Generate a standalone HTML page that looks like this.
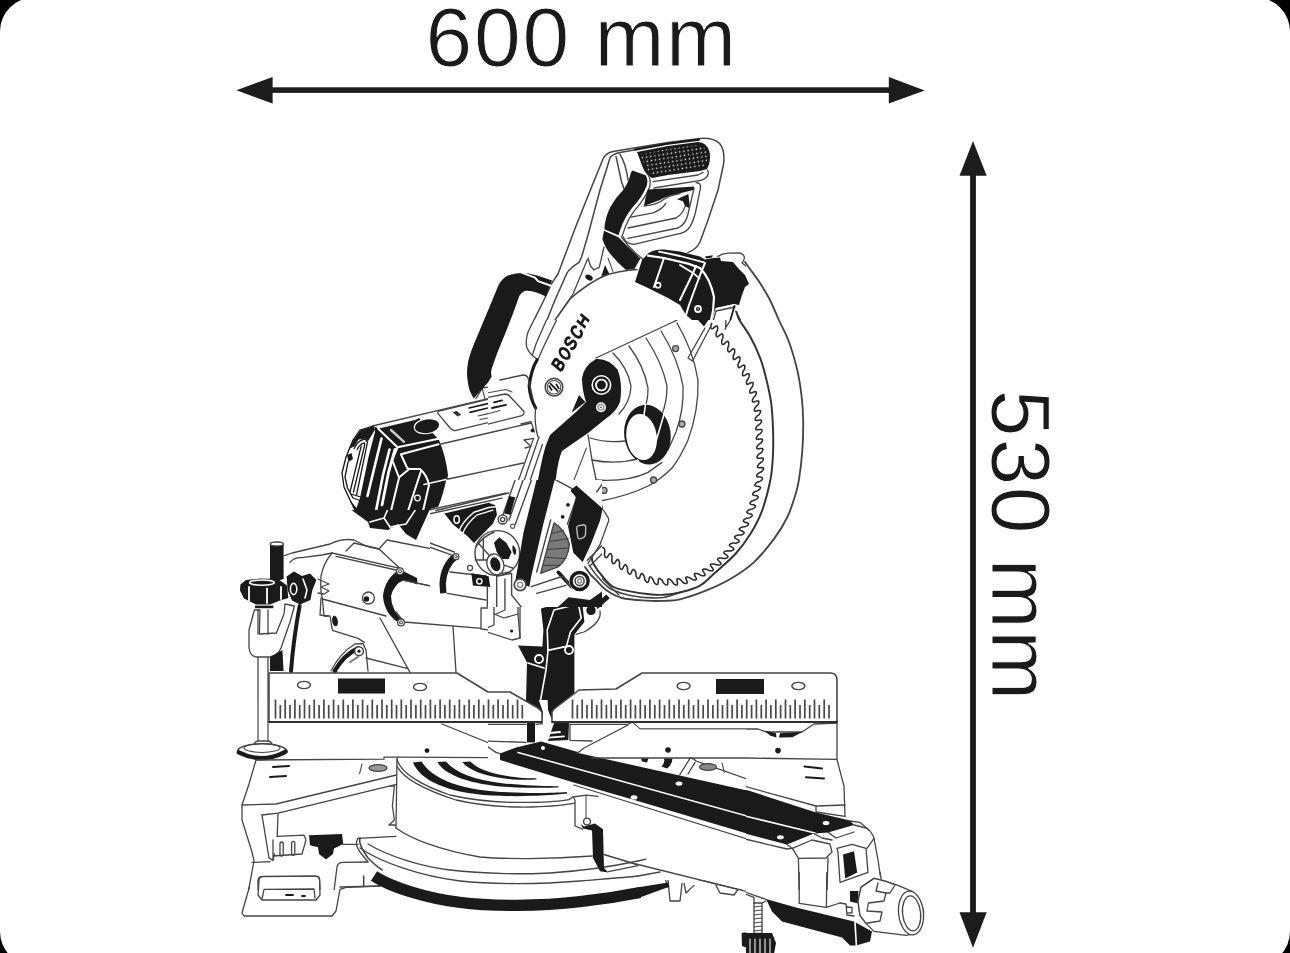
<!DOCTYPE html>
<html><head><meta charset="utf-8">
<style>
html,body{margin:0;padding:0;background:#000;}
body{width:1290px;height:953px;overflow:hidden;position:relative;font-family:"Liberation Sans",sans-serif;}
svg{position:absolute;left:0;top:0;display:block}
text{font-family:"Liberation Sans",sans-serif;fill:#1a1a1a;stroke:none}
.k{fill:#1a1a1a;stroke:none}
.w{fill:#fff;stroke:none}
.wl{stroke:#fff;fill:none}
.kw{fill:#1a1a1a;stroke:#fff}
.wk{fill:#fff;stroke:#454545}
</style></head><body>
<svg width="1290" height="953" viewBox="0 0 1290 953">
<defs>
<pattern id="dots" width="21" height="21" patternUnits="userSpaceOnUse" patternTransform="rotate(-9)"><circle cx="6" cy="6" r="3.6" fill="#fff"/></pattern>
</defs>
<rect x="0" y="-2.5" width="1290" height="968" rx="34" ry="34" fill="#fff"/>
<g id="dims" fill="#1c1c1c" stroke="none">
<rect x="268" y="87.3" width="625" height="5.6"/>
<polygon points="236.5,90.2 272.6,77 272.6,103.6"/>
<polygon points="924.7,90.4 888.8,77 888.8,103.6"/>
<rect x="970.1" y="172" width="5.8" height="744"/>
<polygon points="973,141 959.5,175.7 986.7,175.7"/>
<polygon points="973,947.8 959.5,912.2 986.7,912.2"/>
<text id="t600" y="66.2" font-size="84" x="425.4 474.1 522.5 560 594.4 665.9" stroke="#fff" stroke-width="0.9" style="stroke:#fff;paint-order:fill stroke">600 mm</text>
<text id="t530" transform="translate(991.9,-35.7) rotate(90)" font-size="84" x="425.4 474.1 522.5 560 594.4 665.9" y="0" style="stroke:#fff;paint-order:fill stroke" stroke-width="0.9">530 mm</text>
</g>
<clipPath id="cA_488_130"><rect x="488" y="130" width="258" height="190"/></clipPath>
<g clip-path="url(#cA_488_130)"><g transform="translate(488,130) scale(0.2)" fill="none" stroke="#454545" stroke-width="7.5" stroke-linejoin="round" stroke-linecap="round">
<!-- carry handle black -->
<!-- handle outer outline -->
<path d="M225,960 L270,870 L320,765 L350,720 L440,480 L520,280 L575,145 Q590,115 625,108 L760,85 L900,62 L1060,42 Q1130,38 1160,70 Q1185,100 1178,170 L1150,300 L1100,450 L1060,560 Q1040,600 1000,612"/>
<path d="M295,950 L335,850 L395,715 Q405,695 455,662 L468,635 L500,525 L560,300 L610,140 Q618,122 660,113 L745,98"/>
<path stroke-width="6.50" d="M500,640 L512,680 L530,700 L548,690 L556,688 L580,585"/>
<path d="M640,132 Q655,200 668,260 L682,300"/>
<path d="M660,122 Q690,170 700,250"/>
<path stroke-width="6.50" d="M497,648 L425,820 L350,930"/><path stroke-width="5.20" d="M600,640 L625,708"/>
<ellipse class="k" cx="505" cy="738" rx="20" ry="13" transform="rotate(30 505 738)"/>
<path class="k" d="M585,675 L565,737 L607,720 Z"/>
<!-- pad -->
<path class="k" d="M745,110 L900,80 L1050,60 Q1095,62 1108,110 Q1116,160 1095,195 L1060,205 L900,225 L820,240 Q790,225 775,190 Q760,150 745,110 Z"/>
<path fill="url(#dots)" stroke="none" d="M760,122 L900,95 L1050,75 Q1085,78 1095,115 Q1100,155 1085,185 L1060,195 L900,212 L825,226 Q800,215 788,185 Z"/>
<path stroke-width="11" stroke="#1a1a1a" d="M735,98 L900,68 L1055,48"/>
<!-- S grip -->
<path class="k" d="M722,202 L788,226 Q803,246 793,280 Q770,338 722,388 Q682,438 662,498 L652,526 L582,496 Q584,440 612,385 Q640,335 680,295 Q705,258 714,215 Z"/>
<path class="k" d="M580,504 L652,536 Q690,575 730,612 L762,642 L732,695 L690,700 Q650,665 620,630 Q585,590 572,545 Z"/>
<path stroke-width="6.50" d="M795,218 Q818,242 808,285 Q782,347 737,397 Q697,447 677,512 L668,537 Q700,582 740,617 L782,652"/>
<!-- trigger opening -->
<path class="k" d="M800,298 L1032,283 L1026,300 L960,316 Q900,326 860,350 L780,380 Q785,340 800,298 Z"/>
<path class="k" d="M945,346 L1002,320 L1010,392 L985,380 L975,356 Z"/>
<path stroke-width="6.50" d="M1097,200 Q1108,216 1092,236 Q1076,252 1040,256 L830,290"/>
<path stroke-width="6.50" d="M1075,212 L1050,225 L825,258"/>
<path stroke-width="6.50" d="M1040,264 Q1066,262 1062,292 L1040,400 Q1025,470 1000,496 Q980,516 940,522 L730,572 Q690,572 676,534"/>
<path stroke-width="6.50" d="M1030,292 L1000,420 Q990,470 950,490 L700,542"/>
<path stroke-width="6.50" d="M780,380 Q850,372 880,346 Q900,330 960,318"/>
<path stroke-width="6.50" d="M715,436 L820,416 Q870,400 890,366"/>
<path stroke-width="6.50" d="M700,490 L940,440 Q975,420 985,382"/>
<!-- guard top curve -->
<path d="M335,950 L410,845 Q450,808 500,775 Q540,748 580,730 Q640,706 745,698"/>

<!-- motor top black band -->
<path class="k" d="M770,650 L800,618 Q830,596 880,598 L960,608 L1060,633 L1085,648 L1125,640 L1160,638 L1165,655 L1225,660 L1250,690 L1285,725 L1305,770 L1285,785 L1270,825 L1255,875 L1230,870 L1140,890 L1135,900 L1120,950 L1100,1000 L1020,950 L990,925 L960,875 L900,840 L800,790 L735,760 Z"/>
<path class="k" d="M1085,632 L1125,626 L1120,637 L1090,643 Z"/>
<path class="wl" stroke-width="11" d="M800,628 L880,640 L1000,668 L1060,690 Q1110,740 1130,835 L1125,905 L1105,1000"/>
<path class="wl" stroke-width="9" d="M855,608 L960,630 L1080,662"/>
<path class="wl" stroke-width="9" d="M960,675 L1025,715 L1058,742"/>
<path class="wl" stroke-width="10" d="M880,640 L830,785"/>
<path class="wl" stroke-width="10" d="M1040,680 L1025,715 L960,850"/>
<path class="wl" stroke-width="10" d="M1085,665 L1060,725 L1005,875 L990,925"/>
<circle class="kw" stroke-width="7.80" cx="850" cy="776" r="13"/>
<circle class="kw" stroke-width="9.10" cx="1050" cy="895" r="15"/>
<circle class="w" cx="1050" cy="895" r="4"/>
<path stroke-width="6.50" d="M1150,632 Q1170,618 1200,616 L1255,614 Q1282,620 1282,640 Q1280,655 1270,665 L1310,697"/>
<path class="wl" stroke-width="10" d="M1142,895 L1232,876"/>
<path stroke-width="6.50" d="M1140,905 L1235,885"/>
<path stroke-width="9" stroke="#1a1a1a" d="M1232,880 L1205,975"/>
<path stroke-width="6.50" d="M1238,905 L1290,1000"/>
<path stroke-width="6.50" d="M1140,905 L1125,960"/>


</g></g>
<clipPath id="cB_746_130"><rect x="746" y="130" width="258" height="190"/></clipPath>
<g clip-path="url(#cB_746_130)"><g transform="translate(746,130) scale(0.2)" fill="none" stroke="#454545" stroke-width="7.5" stroke-linejoin="round" stroke-linecap="round">
<path class="k" d="M-5,725 L15,770 L-5,785 Z"/>

</g></g>
<clipPath id="cC_488_320"><rect x="488" y="320" width="258" height="190"/></clipPath>
<g clip-path="url(#cC_488_320)"><g transform="translate(488,320) scale(0.2)" fill="none" stroke="#454545" stroke-width="7.5" stroke-linejoin="round" stroke-linecap="round">
<!-- carry handle inner black -->
<!-- guard strips -->
<path stroke-width="6.50" d="M232,-5 L200,60 Q185,110 195,140 Q210,175 250,198"/>
<path stroke-width="6.50" d="M296,-8 L240,120 L222,175"/>
<path stroke-width="6.50" d="M345,-5 L275,140 L250,198"/>
<path stroke-width="16" stroke="#1a1a1a" d="M245,200 Q215,250 206,330 Q210,390 238,440"/>
<path stroke-width="6.50" d="M238,440 Q230,520 250,585"/>
<!-- logo -->
<circle cx="330" cy="336" r="44" stroke-width="7.80"/>
<circle cx="330" cy="336" r="34" stroke-width="5.20"/>
<path stroke-width="9" stroke="#1a1a1a" d="M312,318 L348,354 M318,350 L306,330 M342,322 L354,342"/>
<!-- hub and arm -->
<path class="k" d="M470,290 Q478,230 540,195 Q600,190 648,248 Q675,320 660,410 Q640,460 590,492 L500,565 L370,655 Q350,700 340,790 L296,955 L208,955 L250,800 Q272,680 290,625 L310,575 L440,460 L490,410 Q470,350 470,290 Z"/>
<path class="k" d="M455,375 L487,410 L418,464 Z"/>
<circle class="wl" cx="567" cy="325" r="46" stroke-width="8"/>
<circle class="wl" cx="567" cy="325" r="27" stroke-width="9.10"/>
<circle class="w" cx="565" cy="436" r="25"/>
<circle cx="565" cy="436" r="14" stroke="#999" stroke-width="8"/>
<circle class="k" cx="565" cy="436" r="4"/>
<!-- guard sector -->
<path stroke-width="6.50" d="M540,190 L925,10 L960,-8"/>
<path stroke-width="6.50" d="M625,165 Q700,240 715,330 Q712,410 655,470"/>
<path stroke-width="6.50" d="M705,130 Q780,230 800,340 Q800,400 785,435"/>
<path stroke-width="6.50" d="M790,90 Q870,210 895,330 Q895,410 870,470"/>
<path stroke-width="6.50" d="M865,55 Q950,190 975,330 Q980,450 940,560 L900,650"/>
<path stroke-width="6.50" d="M945,15 Q1025,150 1050,300 Q1055,450 1000,600 Q960,690 920,740 Q860,800 800,830 Q700,880 560,905"/>
<path stroke-width="6.50" d="M510,590 Q590,615 685,605"/>
<path stroke-width="6.50" d="M520,700 Q640,725 760,692"/>
<path stroke-width="6.50" d="M540,800 Q700,810 800,762 L870,712"/>
<path stroke-width="6.50" d="M500,575 L520,700 L545,820 L575,955"/>
<path stroke-width="5.20" d="M492,640 L430,800 L395,860"/>
<path stroke-width="5.20" d="M540,810 L555,870 L560,905"/>
<path stroke-width="6.50" d="M1085,40 L1000,190 M1112,35 L1022,205 M1000,190 L1022,205"/>
<!-- ring -->
<ellipse class="k" cx="797" cy="573" rx="116" ry="150" transform="rotate(-8 797 573)"/>
<ellipse class="w" cx="768" cy="585" rx="76" ry="116" transform="rotate(-8 768 585)"/>
<path class="wl" stroke-width="7.80" d="M788,420 L780,474"/>
<path class="wl" stroke-width="7.80" d="M882,465 L842,600"/>
<path class="wl" stroke-width="7.80" d="M748,700 L762,724"/>
<!-- screws -->
<g stroke-width="6.50" fill="#aaa"><circle cx="938" cy="143" r="15"/><circle cx="970" cy="520" r="15"/><circle cx="828" cy="800" r="15"/><circle cx="580" cy="852" r="15"/></g>
<!-- teeth top right -->
<path class="k" d="M1045,-5 L1105,-5 L1080,32 Z"/>
<path stroke-width="6.50" d="M1190,-5 L1188,45 M1215,-5 L1185,45"/>
<!-- motor right end -->
<path stroke-width="6.50" d="M60,300 L175,275 Q195,275 200,290 L225,395"/>
<path stroke-width="6.50" d="M-5,388 L85,370 Q100,370 112,385 L178,455 Q185,470 170,478 L-5,522"/>
<path stroke-width="5.20" d="M-5,365 L90,348 L120,360"/>
<path stroke-width="9" stroke="#1a1a1a" d="M30,412 L70,402 M20,440 L90,424"/>
<path stroke-width="5.20" d="M-5,470 L60,452"/>
<path stroke-width="6.50" d="M165,520 L215,508 L232,560"/>
<path stroke-width="6.50" d="M255,585 L195,760 L130,955 M228,592 L160,780 L92,955 M272,622 L215,790 L160,955"/>
<path stroke-width="6.50" d="M180,600 L228,592 M185,640 L215,632 L180,600"/>
<circle class="k" cx="222" cy="553" r="9"/>
<!-- bottom black -->
<path class="k" d="M415,835 L472,840 L530,900 L572,955 L380,955 L400,880 Z"/>
<circle class="w" cx="395" cy="925" r="7"/>

</g></g>
<clipPath id="cF_488_510"><rect x="488" y="510" width="258" height="190"/></clipPath>
<g clip-path="url(#cF_488_510)"><g transform="translate(488,510) scale(0.2)" fill="none" stroke="#454545" stroke-width="7.5" stroke-linejoin="round" stroke-linecap="round">
<defs><pattern id="hatch" width="11" height="11" patternUnits="userSpaceOnUse" patternTransform="rotate(28)"><rect width="11" height="11" fill="#fff"/><rect width="5.5" height="11" fill="#333"/></pattern></defs>
<!-- arm black band -->
<path class="k" d="M225,-5 L338,-5 L300,100 L250,250 L215,362 L140,352 L170,200 L195,100 Z"/>
<path stroke-width="6.50" d="M338,-5 L235,330 M372,30 L262,300"/>
<!-- hatched half disc -->
<path fill="url(#hatch)" stroke-width="6.50" d="M325,85 Q400,110 410,200 Q400,270 345,295 L265,290 Z"/>
<!-- black block -->
<path class="k" d="M400,-10 L573,-10 L560,53 L513,173 L473,260 L426,213 L400,80 Z"/>
<path class="wl" stroke-width="9.10" d="M437,82 L480,70 Q490,72 491,82 L492,122 L452,142 Q440,140 438,130 Z"/>
<circle class="w" cx="375" cy="36" r="9"/><circle class="k" cx="375" cy="36" r="5"/>
<path stroke-width="6.50" d="M573,-6 L593,26 Q606,40 603,55 L560,173 L500,268"/>
<path stroke-width="6.50" d="M560,182 L502,250 L520,290 L600,372 L655,425"/>
<!-- left knob complex -->
<path class="k" d="M-5,-5 L70,-5 L30,50 L-5,70 Z"/>
<path class="k" d="M120,-5 L215,-5 L190,90 L150,120 L120,60 Z"/>
<circle class="wk" stroke-width="7.80" cx="75" cy="42" r="22"/><circle cx="75" cy="42" r="10" stroke-width="6.50"/>
<circle class="wk" stroke-width="6.50" cx="120" cy="85" r="15"/>
<circle class="wk" stroke-width="7.80" cx="62" cy="215" r="78"/>
<path class="k" d="M20,175 Q60,120 110,150 Q140,190 110,215 Q70,225 40,245 Z"/>
<ellipse class="k" cx="38" cy="272" rx="24" ry="40" transform="rotate(-15 38 272)"/>
<ellipse class="wl" stroke-width="7.80" cx="38" cy="272" rx="30" ry="48" transform="rotate(-15 38 272)"/>
<path class="k" d="M-5,330 L15,340 L15,380 L-5,385 Z"/>
<path stroke-width="6.50" d="M100,290 L150,300 L170,140 M30,330 L30,520 L80,540 L150,520 L150,420"/>
<path stroke-width="6.50" d="M-5,395 L40,390 L85,420 L150,410 M85,420 L85,500 L40,520"/>
<path stroke-width="6.50" d="M-5,590 L30,575 L30,520 M150,520 L160,640 L120,650 L-5,610"/>
<circle class="k" cx="118" cy="605" r="8"/>
<path stroke-width="6.50" d="M160,640 L160,440"/>
<!-- bolts -->
<circle class="wk" stroke-width="8" stroke="#1a1a1a" cx="160" cy="380" r="28"/><circle cx="160" cy="380" r="12" stroke="#888" stroke-width="8"/>
<!-- white link bar -->
<path class="wk" stroke-width="6.50" d="M200,432 L400,362 L432,400 L442,432 L222,482 Z"/>
<path stroke-width="16" stroke="#1a1a1a" d="M345,312 L402,392"/>
<path stroke-width="10" stroke="#1a1a1a" d="M330,330 L385,410"/>
<circle class="wk" stroke-width="9" stroke="#1a1a1a" cx="462" cy="362" r="44"/><circle cx="462" cy="362" r="24" stroke-width="10" stroke="#1a1a1a"/><circle cx="462" cy="362" r="9" stroke="#888" stroke-width="7.80"/>
<!-- lower black shape -->
<path class="k" d="M265,492 L440,442 L472,470 L482,560 L432,622 L432,955 L190,955 L195,762 L150,678 L272,682 L277,600 Z"/>
<path class="wl" stroke-width="8" d="M330,500 L452,470 L466,540 L412,610 L392,682 L300,702 L296,600 Z"/>
<path class="wl" stroke-width="8" d="M300,702 L290,800 L262,955"/>
<path class="wl" stroke-width="9.10" d="M200,765 L280,790"/>
<circle class="kw" stroke-width="9.10" cx="255" cy="745" r="20"/>
<circle class="kw" stroke-width="9.10" cx="405" cy="700" r="20"/>
<!-- hose -->
<path stroke-width="26" stroke="#1a1a1a" d="M522,500 L600,432" stroke-linecap="butt"/>
<circle class="kw" stroke-width="9.10" cx="515" cy="502" r="28"/>
<path stroke-width="6.50" d="M560,505 Q570,560 480,610 L440,622"/>

</g></g>
<clipPath id="cG_230_320"><rect x="230" y="320" width="258" height="190"/></clipPath>
<g clip-path="url(#cG_230_320)"><g transform="translate(230,320) scale(0.2)" fill="none" stroke="#454545" stroke-width="7.5" stroke-linejoin="round" stroke-linecap="round">
<!-- carry handle -->
<!-- motor top lines -->
<path stroke-width="6.50" d="M712,530 L1295,392"/>
<path stroke-width="6.50" d="M1230,392 L1262,340 L1295,335"/>
<path stroke-width="5.20" d="M1262,345 L1275,395"/>
<!-- label rect -->
<path stroke-width="6.50" d="M1040,468 Q1035,458 1050,454 L1295,396 M1040,468 L1105,545 Q1115,556 1130,552 L1295,512"/>
<path stroke-width="8" stroke="#1a1a1a" d="M1120,462 L1140,478 M1130,458 L1150,474 M1195,440 L1290,418 M1200,462 L1290,440"/>
<path stroke-width="5.20" d="M1240,480 L1290,468 M1250,498 L1290,490"/>
<!-- motor body lines -->
<g transform="translate(525,475) scale(0.5)">
<path class="k" d="M380,110 L440,135 L800,50 L840,30 L1040,250 Q1110,420 1130,600 Q1110,780 1020,960 L200,960 Q110,800 70,600 Q100,400 180,250 Q250,150 380,110 Z"/>
<ellipse class="kw" stroke-width="12" cx="920" cy="112" rx="128" ry="74" transform="rotate(-8 920 112)"/>
<path class="k" d="M800,20 L1040,20 L1060,120 L1040,250 L850,250 Z" opacity="0"/>
<path class="w" d="M392,118 L255,152 L185,250 L110,420 L72,585 L92,720 L150,850 L215,930 L250,830 L335,420 L400,170 Z"/>
<path class="k" d="M385,112 L255,152 L185,250 L150,335 L195,312 L235,246 L300,236 L330,262 L398,150 Z"/>
<g stroke="#1a1a1a" stroke-width="13" fill="none">
<path d="M190,335 Q232,250 300,240 L325,272 L215,800"/>
<path d="M222,345 Q250,285 290,278 L298,295 L185,770"/>
<path d="M262,310 L150,770"/>
<path d="M130,470 L100,620 L125,730 L180,830 L335,885 L350,835"/>
<path d="M160,790 L320,840"/>
<path d="M380,110 L250,150 L180,250 L110,420 L70,580 L90,720 L150,850 L205,955"/>
</g>
<path class="k" d="M120,400 L165,380 L180,440 L135,470 Z"/>
<g class="wl" stroke-width="20">
<path class="wl" stroke-width="26" d="M465,235 L400,500 L325,810"/>
<path class="wl" stroke-width="26" d="M545,345 L480,600 L410,960"/>
<path class="wl" stroke-width="28" d="M600,345 L535,575 L470,900"/>
<path d="M430,135 L625,322 L1035,238"/>
<path d="M660,392 L1035,292"/>
<path stroke-width="24" stroke="#ccc" d="M560,150 L690,268"/>
<path d="M622,330 L572,450 L640,625 L742,540 L850,540 Q920,600 940,700 L880,960"/>
<path d="M662,400 L722,530 L742,540"/>
<path d="M640,630 L560,960"/>
<path d="M860,560 L730,960"/>
</g>
<circle class="kw" stroke-width="12" cx="825" cy="830" r="28"/>
</g>

</g></g>
<clipPath id="cH_230_510"><rect x="230" y="510" width="258" height="190"/></clipPath>
<g clip-path="url(#cH_230_510)"><g transform="translate(230,510) scale(0.2)" fill="none" stroke="#454545" stroke-width="7.5" stroke-linejoin="round" stroke-linecap="round">
<!-- motor bottom / black parts at top -->
<path class="k" d="M600,-5 L1000,-5 L930,150 L880,120 L840,70 L790,100 L700,90 L690,60 Z"/>
<path class="wl" stroke-width="8" d="M700,60 L770,40 L800,85 M770,40 L790,-5 M800,85 L880,70 L930,-5 M800,85 L830,130"/>
<path class="k" d="M1075,-5 L1295,-5 L1295,120 L1230,190 L1190,150 L1120,90 Z"/>
<path class="wl" stroke-width="8" d="M1150,10 L1200,80 L1260,140 M1190,-5 L1250,70 L1295,100"/>
<circle class="kw" stroke-width="9.10" cx="1133" cy="45" r="16"/>
<!-- clamp post -->
<path class="k" d="M200,172 L268,172 L268,345 L200,365 Z"/>
<ellipse class="wk" stroke-width="6.50" cx="234" cy="170" rx="33" ry="10"/>
<!-- knob -->
<path class="k" d="M52,372 L80,350 L150,343 L240,345 L285,378 L292,440 L250,452 L200,472 L130,472 L70,442 L50,402 Z"/>
<ellipse class="wl" stroke-width="7.80" cx="160" cy="363" rx="62" ry="13"/>
<path class="wl" stroke-width="9.10" d="M95,385 L95,452 M185,392 L185,465 M255,385 L255,445"/>
<rect class="k" x="125" y="478" width="92" height="13"/>
<!-- clamp arm -->
<path class="wk" stroke-width="6.50" d="M122,500 L95,600 L95,690 Q100,730 130,735 L200,735 Q240,725 255,690 L300,560 L322,480 L275,470 L270,520 L232,615 L147,620 L150,500 Z"/>
<path stroke-width="6.50" d="M140,500 L140,620 M190,500 L190,620"/>
<path stroke-width="6.50" d="M140,738 L140,955 M190,738 L190,955"/>
<path class="k" d="M200,738 L262,700 L268,805 L200,805 Z"/>
<path stroke-width="20" stroke="#1a1a1a" d="M348,480 Q318,640 305,805"/>
<!-- cog knob -->
<path class="k" d="M283,332 L320,308 L360,330 L400,318 L432,350 L412,400 L402,450 L350,472 L310,452 L288,400 Z"/>
<ellipse class="wl" stroke-width="7.80" cx="318" cy="395" rx="16" ry="28"/>
<path class="wl" stroke-width="7.80" d="M365,345 L385,400 L375,440"/>
<path stroke-width="6.50" d="M440,345 L495,370 L455,385 L495,405 L470,420 L440,415"/>
<!-- housing -->
<path stroke-width="6.50" d="M272,228 L310,215 L500,170 Q560,140 620,150 L680,180 L745,195"/>
<path stroke-width="6.50" d="M300,262 Q320,235 360,238 L460,225 L510,215"/>
<path stroke-width="6.50" d="M510,215 L850,292 M530,232 L830,300"/>
<path stroke-width="6.50" d="M510,215 Q470,260 455,330 Q450,400 462,445"/>
<path stroke-width="6.50" d="M580,205 L620,165 L745,195 L785,150 L1130,218"/>
<path stroke-width="6.50" d="M745,195 L850,292"/>
<path stroke-width="6.50" d="M462,445 L780,530 M462,445 L470,530 L500,530 L512,602 L640,642 L672,662"/>
<path stroke-width="6.50" d="M455,440 L450,525 L490,530"/>
<path stroke-width="6.50" d="M750,540 L900,812 M1115,582 L1130,812 M680,740 L885,792"/>
<ellipse class="k" cx="525" cy="555" rx="14" ry="27" transform="rotate(-10 525 555)"/>
<circle class="wk" stroke-width="6.50" cx="692" cy="440" r="30"/>
<circle class="k" cx="682" cy="445" r="14"/>
<!-- collars -->
<path class="k" d="M850,298 L935,340 L938,372 L870,350 Q820,370 805,430 Q805,500 870,560 L850,568 Q770,520 765,430 Q775,340 850,298 Z"/>
<path class="k" d="M1130,232 L1185,240 L1185,282 L1125,290 Q1090,310 1085,350 L1100,402 L1070,402 Q1035,360 1050,300 Q1080,250 1130,232 Z"/>
<path stroke-width="6.50" d="M870,352 L1295,440 M870,560 L1260,592 M830,510 L870,560"/>
<path stroke-width="6.50" d="M870,352 L1090,398"/>
<path stroke-width="6.50" d="M1190,285 L1295,305 M1100,402 L1295,445"/>
<circle class="wk" stroke-width="6.50" cx="850" cy="306" r="17"/><circle cx="850" cy="306" r="7" stroke-width="5.20"/>
<circle class="wk" stroke-width="6.50" cx="855" cy="562" r="17"/><circle cx="855" cy="562" r="7" stroke-width="5.20"/>
<circle class="wk" stroke-width="6.50" cx="1130" cy="238" r="17"/><circle cx="1130" cy="238" r="7" stroke-width="5.20"/>
<circle class="wk" stroke-width="6.50" cx="1200" cy="292" r="14"/>
<path class="k" d="M1205,320 L1295,300 L1295,400 L1215,385 Z"/>
<circle class="kw" stroke-width="7.80" cx="1245" cy="355" r="15"/>
<path class="wk" stroke-width="6.50" d="M1255,490 L1295,490 L1295,600 L1255,595 Z"/>
<!-- arc bracket -->
<path stroke-width="24" stroke="#1a1a1a" d="M525,805 Q570,725 640,692"/>
<path class="wl" stroke-width="7.80" d="M540,805 Q585,735 640,710"/>
<circle class="wk" stroke-width="7.80" cx="645" cy="706" r="22"/><circle class="k" cx="645" cy="706" r="8"/>
<path stroke-width="6.50" d="M505,805 Q550,715 625,670 L665,668 L680,700 L690,805"/>
<path stroke-width="10" stroke="#777" d="M600,760 L640,735"/>

</g></g>
<clipPath id="cI_230_700"><rect x="230" y="700" width="258" height="190"/></clipPath>
<g clip-path="url(#cI_230_700)"><g transform="translate(230,700) scale(0.2)" fill="none" stroke="#454545" stroke-width="7.5" stroke-linejoin="round" stroke-linecap="round">
<!-- rod & foot -->
<path stroke-width="6.50" stroke="#555" d="M140,-5 L140,205 M190,-5 L190,205"/>
<path stroke-width="6.50" d="M120,225 Q125,205 140,205 L190,205 Q205,205 212,225"/>
<ellipse class="wk" stroke-width="7.80" cx="160" cy="255" rx="122" ry="36"/>
<path stroke-width="22" stroke="#1a1a1a" d="M44,262 Q160,322 278,258"/>
<ellipse stroke-width="5.20" cx="160" cy="240" rx="90" ry="22"/>
<!-- base top -->
<path stroke-width="6.50" d="M130,300 L770,296 L770,286 L842,286"/>
<path stroke-width="6.50" d="M130,300 L95,420 L60,525 L60,600 L110,760 L120,805 L92,955"/>
<path stroke-width="6.50" d="M60,525 L230,520 L832,375"/>
<path stroke-width="6.50" d="M160,575 L240,566 L832,422"/>
<path stroke-width="6.50" d="M160,575 L195,790 L215,802 L222,770"/>
<path stroke-width="6.50" d="M240,568 L236,682"/>
<path stroke-width="10" stroke="#1a1a1a" d="M215,335 L295,330 M200,385 L280,380"/>
<ellipse cx="740" cy="340" rx="45" ry="17" fill="#999" stroke-width="6.50"/>
<path stroke-width="5.20" d="M660,320 L648,368"/>
<circle class="k" cx="985" cy="253" r="12"/>
<path stroke-width="6.50" d="M842,286 L1295,288"/>
<path stroke-width="6.50" d="M1060,120 L1295,215"/>
<!-- turntable -->
<path stroke-width="6.50" d="M800,430 L822,430 L812,530 L822,600 L795,625 L828,625"/>
<path stroke-width="6.50" d="M640,692 L830,682"/>
<path stroke-width="7.80" d="M650,690 Q640,720 690,790 Q730,830 760,850"/>
<path stroke-width="6.50" d="M640,692 Q620,720 650,760 L690,810"/>
<!-- lock knob -->
<path class="k" d="M395,676 L560,670 L566,720 L520,742 L515,770 L480,797 L445,770 L440,736 L400,726 Z"/>
<path stroke-width="6.50" d="M236,682 L370,676 L380,700 L360,770 L215,780 M215,700 L215,800"/>
<path stroke-width="6.50" d="M250,715 L250,775 Q258,785 266,775 L266,715 Q258,705 250,715 M308,712 L308,772 Q316,782 324,772 L324,712 Q316,702 308,712"/>
<path stroke-width="6.50" d="M566,722 L640,722"/>
<!-- bottom boxes -->
<path stroke-width="6.50" d="M110,812 L200,808"/>
<path stroke-width="6.50" d="M140,905 Q140,882 165,882 L425,880 Q448,880 448,900 L450,955"/>
<path stroke-width="6.50" d="M140,905 L140,955"/>
<path stroke-width="6.50" d="M520,955 L535,835 Q540,812 565,812 L690,810"/>
<path stroke-width="6.50" d="M668,880 L668,930 M550,935 L750,930"/>

</g></g>
<clipPath id="cJ_488_700"><rect x="488" y="700" width="258" height="190"/></clipPath>
<g clip-path="url(#cJ_488_700)"><g transform="translate(488,700) scale(0.2)" fill="none" stroke="#454545" stroke-width="7.5" stroke-linejoin="round" stroke-linecap="round">
<!-- black V between fences -->
<path class="k" d="M180,-5 L252,-5 L275,60 L272,100 L225,40 Z"/>
<path class="k" d="M298,-5 L440,-5 L436,-50 L330,60 L320,100 L300,50 Z"/>
<!-- stubs below fence -->
<path class="k" d="M195,115 L235,115 L235,212 L195,212 Z"/>
<path class="k" d="M330,115 L405,115 L402,200 L300,205 L318,150 Z"/>
<path class="wl" stroke-width="9.10" d="M310,165 L360,160 M305,188 L380,182"/>
<!-- left lower fence body -->
<path stroke-width="6.50" d="M-5,122 L190,122 M240,122 L272,118"/>
<path stroke-width="6.50" d="M-5,205 L190,212 M-5,232 L40,262 L60,268"/>
<!-- right lower fence body -->
<path stroke-width="6.50" d="M410,122 L700,122 L722,112 L760,145 L1295,145"/>
<path stroke-width="6.50" d="M410,122 L410,202 L520,205"/>

<!-- black bar -->
<path class="k" d="M60,268 L140,238 L265,208 L440,258 L1295,447 L1295,668 L740,502 L420,410 L60,300 Z"/>
<path class="w" d="M700,125 L480,240 L446,264 L1295,452 L1295,147 L760,147 L722,114 Z"/>
<path stroke-width="6.50" d="M446,266 L480,240 L700,125 M520,290 L1295,290"/>
<path class="wl" stroke-width="7.80" d="M150,262 L1295,580"/>
<circle class="w" cx="275" cy="240" r="10"/><ellipse class="w" cx="730" cy="487" rx="17" ry="11"/><ellipse class="w" cx="955" cy="418" rx="17" ry="11"/>
<ellipse class="w" cx="45" cy="300" rx="16" ry="8"/>
<path stroke-width="6.50" d="M430,425 L1295,695"/>
<!-- fence support details -->
<circle class="k" cx="900" cy="250" r="14"/>
<path class="k" d="M880,292 L922,294 Q920,325 895,342 L868,332 Q885,315 880,292 Z"/>
<path class="k" d="M765,292 L802,292 L795,312 L770,308 Z"/>
<path stroke-width="6.50" d="M1010,290 Q1030,292 1040,305 L1295,395"/>
<path stroke-width="6.50" d="M1010,292 L958,375 M1035,312 L1000,370"/>
<ellipse cx="1100" cy="335" rx="42" ry="17" fill="#888" stroke-width="6.50"/>
<path stroke-width="5.20" d="M1170,315 L1182,362"/>
<!-- misc -->
<path stroke-width="6.50" d="M585,775 L740,820 L1295,958"/>

</g></g>
<clipPath id="cK_746_700"><rect x="746" y="700" width="258" height="190"/></clipPath>
<g clip-path="url(#cK_746_700)"><g transform="translate(746,700) scale(0.2)" fill="none" stroke="#454545" stroke-width="7.5" stroke-linejoin="round" stroke-linecap="round">
<!-- under fence -->
<path stroke-width="6.50" d="M-5,145 L60,145 L100,160 L280,160 L340,120 L455,116"/>
<path class="k" d="M92,153 L150,166 L152,188 L120,178 Z"/>
<path class="k" d="M165,188 L170,166 L282,160 L232,186 Z"/>
<circle class="k" cx="160" cy="253" r="14"/>
<path stroke-width="6.50" d="M-5,290 L452,297"/>
<path stroke-width="6.50" d="M455,100 L455,297 L490,432 L495,582"/>
<path stroke-width="10" stroke="#1a1a1a" d="M292,332 L380,342 M300,386 L390,392"/>
<!-- bar continuation -->
<path stroke-width="6.50" d="M-5,432 L350,530 L350,560 L495,582 M350,530 L495,525"/>
<path class="k" d="M-5,447 L-5,668 L205,722 L340,668 L410,662 L540,625 L520,603 L350,562 Z"/>
<path class="wl" stroke-width="7.80" d="M-5,580 L345,665"/>
<ellipse class="w" cx="400" cy="615" rx="17" ry="10"/><ellipse class="w" cx="172" cy="686" rx="17" ry="10"/>
<path stroke-width="6.50" d="M-5,695 L205,745 L232,742"/>
<!-- extension end -->
<path stroke-width="6.50" d="M540,625 L600,640 Q632,660 640,692 L660,800 L672,880"/>
<path stroke-width="6.50" d="M520,605 L570,612 L615,650"/>
<path stroke-width="6.50" d="M205,722 L232,742 L262,792 L266,955 M232,742 L330,700 L420,720 L430,760 L400,790 L262,792"/>
<path stroke-width="6.50" d="M340,668 L380,690 L430,700 M410,662 L450,690 L540,660"/>
<path stroke-width="6.50" d="M410,790 L405,955"/>
<path stroke-width="6.50" d="M455,742 L530,722 L600,742 L610,862 L470,912 L460,762 Z"/>
<path class="k" d="M485,772 L540,756 L556,862 L496,892 Z"/>
<path stroke-width="6.50" d="M640,692 L605,742"/>

</g></g>
<clipPath id="cL_230_763_876"><rect x="230" y="876" width="258" height="77"/></clipPath>
<g clip-path="url(#cL_230_763_876)"><g transform="translate(230,763) scale(0.2)" fill="none" stroke="#454545" stroke-width="7.5" stroke-linejoin="round" stroke-linecap="round">
<path stroke-width="6.50" d="M97,620 L60,750 L70,765 L510,765 L530,740 L550,632 L580,622 L750,616"/>
<path stroke-width="6.50" d="M145,590 Q145,568 165,568 L425,565 Q448,565 448,585 L450,660 L430,685 L160,685 L140,660 Z"/>
<path stroke-width="6.50" d="M170,632 L420,630 L425,675 M170,632 L160,680"/>
<path stroke-width="9" stroke="#1a1a1a" d="M280,660 L315,660 M360,665 L375,665"/>
<path stroke-width="6.50" d="M668,565 L668,615"/>

</g></g>
<clipPath id="cM_488_763_880"><rect x="488" y="880" width="258" height="73"/></clipPath>
<g clip-path="url(#cM_488_763_880)"><g transform="translate(488,763) scale(0.2)" fill="none" stroke="#454545" stroke-width="7.5" stroke-linejoin="round" stroke-linecap="round">
<path stroke-width="6.50" d="M860,547 L880,560 L900,622"/>
<path stroke-width="6.50" d="M740,505 L1295,643"/>
<path stroke-width="6.50" d="M900,582 L910,690 L960,690 L970,602 M980,602 L990,650 L1030,612 M1140,612 L1160,650 L1230,660 L1250,632"/>
<path class="k" d="M1268,850 L1295,845 L1295,925 L1270,915 Z"/>

</g></g>
<clipPath id="cN_746_763_872"><rect x="746" y="872" width="258" height="81"/></clipPath>
<g clip-path="url(#cN_746_763_872)"><g transform="translate(746,763) scale(0.2)" fill="none" stroke="#454545" stroke-width="7.5" stroke-linejoin="round" stroke-linecap="round">
<!-- end box -->
<path stroke-width="6.50" d="M266,480 L266,702 M405,480 L402,722 M266,702 L402,722 L470,700"/>
<path stroke-width="6.50" d="M660,485 L676,580"/>
<path stroke-width="6.50" d="M-5,645 L100,682"/>
<!-- lever black -->
<path class="k" d="M100,680 L250,722 L540,792 L550,912 L520,912 L480,872 L180,792 L130,742 Z"/>
<path class="k" d="M540,792 L630,842 L620,892 L550,912 Z"/>
<path class="wl" stroke-width="7.80" d="M545,790 L552,915"/>
<path class="k" d="M520,640 L562,640 L562,702 L520,692 Z"/>
<path stroke-width="6.50" d="M470,700 L500,705 L505,760 L540,765 M505,720 L530,722 L530,750 L505,748"/>
<!-- knob -->
<path class="wk" stroke-width="6.50" d="M575,622 L640,577 L700,592 L760,612 L830,642 Q870,670 888,740 Q890,800 850,852 L800,862 L640,842 L600,802 L570,762 L560,692 Z"/>
<path class="wk" stroke-width="6.50" d="M640,577 L700,592 L745,610 L720,650 L700,650 L690,690 L612,700 L605,740 L680,745 L670,790 L610,800 L600,802 L570,762 L560,692 L575,622 Z"/>
<path stroke-width="6.50" d="M650,640 L700,650 M660,600 L650,640"/>
<ellipse class="wk" stroke-width="6.50" cx="825" cy="750" rx="62" ry="110" transform="rotate(-6 825 750)"/>
<ellipse stroke-width="6.50" cx="828" cy="752" rx="45" ry="88" transform="rotate(-6 828 752)"/>
<!-- leveling foot -->
<path class="wk" stroke-width="6.50" d="M40,700 L80,700 L80,852 L40,852 Z"/>
<path stroke-width="5.20" d="M40,720 L80,715 M40,740 L80,735 M40,760 L80,755 M40,780 L80,775 M40,800 L80,795 M40,820 L80,815 M40,840 L80,835"/>
<path class="k" d="M-5,850 L130,850 L150,900 L140,955 L-5,955 Z"/>
<path class="wl" stroke-width="5.20" d="M20,880 L20,955 M45,880 L45,955 M70,880 L70,955 M95,880 L95,955 M120,880 L120,955"/>
<path stroke-width="6.50" d="M-5,655 L40,672 L40,700 M80,700 L100,690"/>

</g></g>
<g fill="none" stroke="#454545" stroke-width="1.5" stroke-linejoin="round" stroke-linecap="round"><clipPath id="cpivot"><rect x="430" y="480" width="172" height="127"/></clipPath>
<g clip-path="url(#cpivot)"><g transform="translate(430,480) scale(0.13333)" stroke-width="10.40">
<rect class="w" x="-10" y="-10" width="1310" height="972"/>
<!-- motor band + bottom edge -->
<path class="k" d="M-5,-5 L122,-5 Q105,90 62,200 L-5,218 Z"/>
<path d="M-5,224 L565,98 M-5,254 L540,136"/>
<path d="M122,-5 L560,-100"/>
<!-- cylinder -->
<path class="k" d="M108,252 L440,170 L490,190 L502,260 L470,330 L400,400 L330,472 L280,420 L230,380 L170,330 Z"/>
<path class="wl" stroke-width="11.70" d="M215,392 Q235,320 330,242 L440,206 L492,200"/>
<path class="wl" stroke-width="10.40" d="M242,408 Q270,330 350,264 L472,226"/>
<ellipse class="kw" stroke-width="11.70" cx="200" cy="296" rx="20" ry="28"/>
<!-- strips left of arm -->
<path d="M640,-5 L540,282 M700,-5 L592,302 M762,-5 L640,332"/>
<path class="k" d="M592,120 L640,130 L602,262 L556,252 Z"/>
<!-- bevel knob -->
<circle class="wk" cx="505" cy="548" r="168"/>
<path d="M345,500 Q400,420 480,392"/>
<path class="k" d="M480,470 L520,430 L572,470 L612,540 L590,592 L540,592 L500,540 Z"/>
<path class="k" d="M620,488 Q660,520 640,565 Q610,545 620,488 Z"/>
<path d="M400,440 L400,600 M340,600 L440,600 M360,470 L440,560"/>
<ellipse class="wk" cx="490" cy="632" rx="62" ry="80" transform="rotate(-20 490 632)"/>
<ellipse class="k" cx="490" cy="632" rx="36" ry="54" transform="rotate(-20 490 632)"/>
<path d="M560,640 L620,660 M540,700 L600,690"/>
<circle class="wk" cx="545" cy="296" r="34"/><circle cx="545" cy="296" r="16"/>
<circle class="wk" stroke-width="7.80" cx="620" cy="346" r="16"/>
<!-- arm band -->
<path class="k" d="M800,-5 L936,-5 L850,330 L760,720 L745,800 L640,760 L700,400 Z"/>
<circle class="wk" stroke-width="13.00" cx="676" cy="786" r="44"/><circle cx="676" cy="786" r="20" stroke="#888"/>
<!-- right of arm -->
<path d="M936,-5 L1062,62 L1100,132 L1030,332"/>
<circle class="k" cx="1035" cy="186" r="14"/><circle class="k" cx="995" cy="276" r="14"/>
<path class="k" d="M1062,70 L1098,42 L1295,215 L1275,305 L1205,485 L1145,615 L1075,545 L1035,345 L1085,175 L1095,125 L1055,85 Z"/>
<path d="M1295,215 L1325,265 Q1345,290 1338,310 L1275,485 L1185,625"/>
<path stroke="#bbb" stroke-width="10.40" d="M1100,362 Q1098,348 1112,344 L1150,336 Q1166,336 1168,352 L1166,410 Q1164,424 1150,432 L1126,442 Q1112,444 1108,428 Z"/>
<path d="M1300,20 L1250,90"/>
<!-- hatched half disc -->
<path fill="#7a7a7a" d="M930,322 Q1010,370 1045,480 Q1040,590 960,652 L830,700 Z"/>
<path stroke="#333" stroke-width="6.50" d="M915,400 L1000,380 M900,460 L1038,440 M885,520 L1040,510 M870,580 L1020,590 M855,640 L975,640"/>
<path d="M905,300 L800,690"/>
<!-- bottom right bolt -->
<path stroke-width="26" stroke="#1a1a1a" d="M962,692 L1060,800"/>
<circle class="w" cx="1122" cy="758" r="80"/><circle cx="1122" cy="758" r="64" stroke="#1a1a1a" stroke-width="26"/><circle cx="1122" cy="758" r="34" stroke-width="11.70"/><circle cx="1122" cy="758" r="15" stroke="#888"/>
<path d="M1180,602 L1300,482 M1205,640 L1300,545"/>
<path d="M760,800 L1000,720 L1050,800 M800,850 L1020,790"/>
<path class="k" d="M950,960 L1040,880 L1200,900 L1300,830 L1300,960 Z"/>
<!-- collar bottom-left -->
<path d="M-5,470 L182,540 M-5,502 L160,562"/>
<path stroke-width="48" stroke="#1a1a1a" stroke-linecap="butt" d="M200,565 Q100,640 95,780 L100,850"/>
<circle class="wk" stroke-width="9.10" cx="195" cy="575" r="22"/><circle cx="195" cy="575" r="9" stroke-width="6.50"/>
<path d="M150,690 L420,720 M130,850 L420,900"/>
<circle class="wk" stroke-width="9.10" cx="300" cy="660" r="19"/>
<path class="k" d="M310,700 L440,722 L452,802 L322,792 Z"/>
<circle class="kw" stroke-width="10.40" cx="370" cy="760" r="20"/>
<!-- bottom center -->
<path d="M430,800 L430,960 M500,722 L500,960 M562,742 L562,960 M612,700 L612,862 L690,960 M500,722 L612,700"/>
</g></g>
</g>
<g fill="none" stroke="#454545" stroke-width="1.5" stroke-linejoin="round" stroke-linecap="round"><path stroke-width="1.43" d="M441,444 L531,423"/>
<path stroke-width="1.43" d="M447,479.3 L523.5,463"/>
<path stroke-width="1.43" d="M436,510.5 L508.6,493"/>
<path class="wl" stroke-width="1.6" d="M424,484.5 L446,479.5"/>
</g>
<g fill="none" stroke="#454545" stroke-width="1.5" stroke-linejoin="round" stroke-linecap="round"><path d="M745.0,262.0 C745.8,263.2 747.5,265.5 750.0,269.0 C752.5,272.5 756.7,277.8 760.0,283.0 C763.3,288.2 766.9,293.8 770.0,300.0 C773.1,306.2 775.8,313.0 778.9,320.0 C782.0,327.0 785.8,333.4 788.9,341.8 C792.0,350.2 795.2,361.4 797.3,370.3 C799.4,379.2 800.5,387.1 801.5,395.5 C802.5,403.9 803.1,411.5 803.2,420.7 C803.3,429.9 803.0,441.1 802.3,450.9 C801.6,460.7 800.1,472.3 799.0,479.4 C797.9,486.5 797.7,487.3 795.8,493.6 C793.9,499.9 791.0,509.4 787.4,517.0 C783.8,524.5 779.6,531.4 774.0,538.9 C768.4,546.4 761.1,555.6 753.8,562.3 C746.5,569.0 738.4,574.2 730.3,579.0 C722.2,583.8 713.6,587.5 705.2,590.9 C696.8,594.3 686.9,597.6 680.0,599.3 C673.1,600.9 669.5,600.6 664.0,600.8 C658.5,601.0 654.0,601.2 647.0,600.7 C640.0,600.2 628.7,599.7 622.0,598.0 C615.3,596.3 611.1,593.6 606.8,590.6 C602.5,587.6 598.8,582.8 596.0,580.0 C593.2,577.2 591.8,576.0 590.0,573.8 C588.2,571.6 585.8,568.1 585.0,567.0" stroke-width="1.82" stroke="#444"/>
<path d="M680.7,592.3 C677.9,593.2 669.6,596.6 664.0,597.5 C658.4,598.4 653.0,598.0 647.0,597.6 C641.0,597.2 634.2,596.5 628.0,595.0 C621.8,593.5 615.0,591.5 610.0,588.5 C605.0,585.5 601.5,580.9 598.0,577.0 C594.5,573.1 590.5,567.0 589.0,565.0" stroke-width="1.56" stroke="#444"/>
<path d="M736.5,312.0 C737.0,313.3 737.1,315.9 739.4,320.0 C741.7,324.1 746.8,330.4 750.3,336.8 C753.8,343.2 757.6,351.1 760.4,358.6 C763.2,366.1 765.2,374.4 767.0,382.0 C768.8,389.6 770.3,396.2 771.3,404.0 C772.3,411.8 772.7,420.7 773.0,429.0 C773.3,437.3 773.4,445.6 773.0,454.0 C772.6,462.4 772.3,470.0 770.5,479.4 C768.7,488.8 765.5,501.2 762.2,510.3 C758.9,519.4 755.0,526.5 750.5,533.8 C746.0,541.1 741.5,547.3 735.4,554.0 C729.2,560.7 719.5,568.7 713.6,574.0 C707.7,579.3 705.5,582.6 700.0,585.6 C694.5,588.6 686.7,590.8 680.7,592.3 C674.7,593.8 669.6,594.5 664.0,594.8 C658.4,595.1 652.6,594.6 647.0,594.0 C641.4,593.4 635.9,592.6 630.3,591.4 C624.7,590.2 618.1,589.4 613.6,587.0 C609.1,584.6 606.4,580.9 603.0,577.0 C599.6,573.1 595.2,567.0 593.4,563.8 C591.6,560.6 592.2,559.0 592.0,558.0" stroke-width="1.95" stroke="#333"/>
<path d="M711.7,323.4 L711.0,324.9 L710.9,325.9 L710.9,326.7 L710.9,327.4 L711.0,328.0 L711.2,328.4 L711.5,328.6 L711.8,328.7 L712.2,328.7 L712.7,328.5 L713.3,328.2 L714.6,327.1 L715.5,326.5 L716.0,326.2 L716.5,326.0 L716.9,326.0 L717.2,326.2 L717.4,326.5 L717.6,326.9 L717.7,327.5 L717.7,328.2 L717.7,329.1 L717.5,330.1 L716.5,331.9 L716.2,333.1 L716.1,334.1 L716.1,334.9 L716.2,335.5 L716.3,336.0 L716.6,336.4 L716.8,336.6 L717.2,336.7 L717.6,336.6 L718.1,336.4 L718.7,336.0 L720.1,334.8 L720.9,334.3 L721.4,334.0 L721.8,333.9 L722.2,333.9 L722.4,334.1 L722.7,334.4 L722.8,334.8 L722.9,335.4 L723.0,336.2 L722.9,337.1 L722.7,338.2 L721.9,340.1 L721.7,341.3 L721.7,342.2 L721.8,342.9 L721.9,343.5 L722.1,344.0 L722.4,344.3 L722.7,344.5 L723.1,344.5 L723.5,344.3 L724.0,344.0 L724.7,343.5 L726.0,342.2 L726.6,341.7 L727.1,341.4 L727.5,341.3 L727.8,341.3 L728.1,341.5 L728.3,341.9 L728.5,342.4 L728.7,343.0 L728.8,343.8 L728.7,344.7 L728.5,346.0 L727.8,347.9 L727.7,348.9 L727.7,349.8 L727.8,350.5 L728.0,351.1 L728.2,351.5 L728.5,351.7 L728.8,351.9 L729.1,351.8 L729.6,351.7 L730.1,351.3 L730.9,350.6 L732.1,349.4 L732.7,349.0 L733.2,348.8 L733.6,348.8 L733.9,348.9 L734.2,349.1 L734.5,349.5 L734.6,350.1 L734.7,350.8 L734.7,351.6 L734.6,352.6 L734.0,354.1 L733.3,355.7 L733.2,356.7 L733.2,357.5 L733.2,358.2 L733.3,358.7 L733.5,359.1 L733.8,359.3 L734.1,359.5 L734.5,359.4 L734.9,359.3 L735.6,358.9 L736.9,357.9 L737.8,357.2 L738.3,356.9 L738.8,356.8 L739.2,356.8 L739.5,357.0 L739.7,357.3 L739.9,357.8 L740.0,358.3 L740.0,359.0 L739.9,359.9 L739.7,361.0 L738.7,362.7 L738.3,363.9 L738.1,364.9 L738.1,365.7 L738.1,366.3 L738.2,366.8 L738.4,367.2 L738.6,367.4 L739.0,367.5 L739.4,367.5 L739.9,367.3 L740.6,366.9 L742.1,365.8 L742.8,365.4 L743.4,365.2 L743.8,365.1 L744.2,365.2 L744.5,365.4 L744.7,365.7 L744.8,366.2 L744.8,366.8 L744.8,367.6 L744.6,368.5 L744.3,369.6 L743.1,371.3 L742.7,372.4 L742.6,373.3 L742.5,374.1 L742.5,374.7 L742.6,375.2 L742.8,375.5 L743.1,375.7 L743.4,375.8 L743.8,375.7 L744.4,375.5 L745.2,375.1 L746.7,374.1 L747.5,373.8 L748.0,373.7 L748.4,373.7 L748.7,373.8 L749.0,374.0 L749.1,374.4 L749.2,375.0 L749.2,375.6 L749.1,376.4 L748.8,377.3 L748.3,378.5 L747.1,380.1 L746.7,381.1 L746.5,382.0 L746.5,382.7 L746.5,383.3 L746.6,383.7 L746.7,384.0 L747.0,384.2 L747.4,384.3 L747.8,384.2 L748.4,384.0 L749.4,383.5 L750.9,382.8 L751.6,382.5 L752.1,382.5 L752.5,382.5 L752.8,382.7 L753.0,383.0 L753.1,383.4 L753.1,384.0 L753.0,384.7 L752.8,385.5 L752.5,386.4 L751.5,387.8 L750.5,389.1 L750.1,390.0 L749.9,390.8 L749.8,391.5 L749.8,392.0 L749.9,392.5 L750.0,392.8 L750.3,393.0 L750.7,393.0 L751.2,393.0 L751.9,392.8 L753.4,392.1 L754.4,391.7 L755.1,391.6 L755.5,391.6 L755.9,391.7 L756.1,391.9 L756.3,392.3 L756.4,392.7 L756.3,393.3 L756.1,394.0 L755.8,394.8 L755.4,395.8 L753.9,397.2 L753.2,398.3 L752.8,399.2 L752.5,399.9 L752.4,400.5 L752.4,401.0 L752.5,401.4 L752.6,401.7 L752.9,401.9 L753.3,402.0 L753.9,401.9 L754.6,401.8 L756.4,401.1 L757.2,400.9 L757.8,400.9 L758.3,400.9 L758.6,401.1 L758.8,401.4 L758.9,401.8 L758.9,402.3 L758.7,402.9 L758.5,403.6 L758.1,404.4 L757.4,405.4 L755.8,406.7 L755.1,407.7 L754.7,408.5 L754.4,409.1 L754.3,409.7 L754.2,410.2 L754.3,410.6 L754.5,410.8 L754.8,411.0 L755.2,411.1 L755.8,411.1 L756.7,410.9 L758.4,410.5 L759.2,410.4 L759.8,410.4 L760.2,410.6 L760.4,410.8 L760.6,411.1 L760.6,411.6 L760.5,412.1 L760.3,412.7 L759.9,413.4 L759.4,414.2 L758.5,415.1 L756.8,416.3 L756.2,417.1 L755.7,417.8 L755.4,418.5 L755.2,419.0 L755.2,419.5 L755.2,419.9 L755.4,420.1 L755.8,420.3 L756.2,420.4 L756.9,420.4 L757.9,420.3 L759.6,420.0 L760.3,420.0 L760.8,420.0 L761.2,420.2 L761.4,420.5 L761.5,420.8 L761.5,421.3 L761.3,421.8 L761.0,422.4 L760.6,423.1 L760.0,423.9 L758.7,424.9 L757.3,425.9 L756.7,426.7 L756.3,427.4 L756.0,428.0 L755.8,428.6 L755.8,429.0 L755.9,429.3 L756.1,429.6 L756.5,429.8 L757.0,429.8 L757.7,429.8 L759.3,429.6 L760.4,429.5 L761.1,429.5 L761.5,429.6 L761.8,429.8 L762.0,430.1 L762.1,430.5 L762.0,430.9 L761.8,431.5 L761.5,432.1 L761.0,432.8 L760.3,433.6 L758.6,434.7 L757.6,435.6 L757.1,436.4 L756.7,437.0 L756.4,437.6 L756.3,438.1 L756.3,438.5 L756.4,438.9 L756.6,439.1 L757.0,439.3 L757.6,439.3 L758.3,439.3 L760.2,439.0 L761.0,439.0 L761.6,439.0 L762.1,439.2 L762.3,439.4 L762.5,439.7 L762.5,440.1 L762.4,440.6 L762.2,441.1 L761.8,441.8 L761.3,442.5 L760.5,443.4 L758.7,444.4 L757.9,445.3 L757.4,446.0 L757.0,446.7 L756.8,447.2 L756.7,447.7 L756.7,448.1 L756.8,448.4 L757.1,448.6 L757.5,448.8 L758.1,448.8 L759.0,448.8 L760.8,448.5 L761.6,448.5 L762.2,448.6 L762.5,448.7 L762.8,448.9 L762.9,449.3 L762.9,449.7 L762.8,450.2 L762.5,450.8 L762.1,451.5 L761.5,452.2 L760.6,453.1 L758.8,454.1 L758.1,455.0 L757.6,455.7 L757.3,456.3 L757.1,456.9 L757.0,457.3 L757.1,457.7 L757.3,458.0 L757.6,458.2 L758.1,458.3 L758.7,458.3 L759.8,458.2 L761.5,458.0 L762.2,458.0 L762.7,458.0 L763.0,458.2 L763.2,458.5 L763.3,458.8 L763.3,459.3 L763.1,459.8 L762.8,460.4 L762.4,461.1 L761.8,461.9 L760.4,462.9 L759.1,463.9 L758.4,464.6 L758.0,465.3 L757.7,465.9 L757.5,466.4 L757.4,466.8 L757.5,467.2 L757.7,467.4 L758.0,467.6 L758.5,467.7 L759.2,467.7 L760.9,467.6 L762.0,467.6 L762.6,467.7 L763.1,467.8 L763.4,468.1 L763.6,468.4 L763.6,468.8 L763.5,469.2 L763.2,469.8 L762.8,470.4 L762.2,471.0 L761.4,471.8 L759.6,472.6 L758.5,473.3 L757.8,474.0 L757.3,474.6 L757.0,475.1 L756.8,475.5 L756.7,475.9 L756.7,476.3 L756.9,476.5 L757.3,476.7 L757.8,476.9 L758.6,477.0 L760.4,477.1 L761.3,477.3 L761.8,477.4 L762.2,477.7 L762.5,478.0 L762.5,478.3 L762.5,478.7 L762.3,479.2 L761.9,479.7 L761.4,480.2 L760.7,480.8 L759.7,481.4 L757.7,482.0 L756.7,482.6 L756.0,483.2 L755.5,483.8 L755.1,484.2 L754.9,484.7 L754.8,485.1 L754.9,485.4 L755.1,485.7 L755.5,485.9 L756.0,486.1 L756.9,486.3 L758.7,486.5 L759.5,486.7 L760.0,486.9 L760.3,487.2 L760.5,487.5 L760.5,487.8 L760.4,488.2 L760.1,488.7 L759.7,489.2 L759.1,489.7 L758.4,490.3 L757.2,490.9 L755.3,491.4 L754.4,492.0 L753.7,492.5 L753.2,493.0 L752.8,493.5 L752.6,493.9 L752.6,494.3 L752.7,494.6 L752.9,494.9 L753.3,495.1 L753.9,495.3 L755.0,495.5 L756.7,495.8 L757.3,496.0 L757.8,496.3 L758.1,496.6 L758.2,496.9 L758.2,497.2 L758.0,497.7 L757.7,498.1 L757.2,498.6 L756.6,499.1 L755.7,499.7 L754.1,500.2 L752.5,500.7 L751.7,501.2 L751.0,501.7 L750.6,502.2 L750.2,502.6 L750.0,503.0 L750.0,503.4 L750.1,503.7 L750.4,504.0 L750.8,504.2 L751.5,504.4 L753.1,504.8 L754.2,505.1 L754.8,505.3 L755.2,505.6 L755.4,505.9 L755.5,506.2 L755.4,506.6 L755.2,507.0 L754.8,507.5 L754.2,508.0 L753.5,508.4 L752.6,508.9 L750.6,509.3 L749.4,509.7 L748.5,510.2 L747.9,510.7 L747.4,511.1 L747.1,511.5 L747.0,511.9 L746.9,512.3 L747.1,512.6 L747.4,512.8 L747.8,513.1 L748.6,513.4 L750.3,513.9 L751.2,514.2 L751.7,514.5 L752.0,514.8 L752.2,515.1 L752.2,515.4 L752.1,515.8 L751.8,516.2 L751.3,516.7 L750.7,517.1 L749.9,517.6 L748.9,518.0 L746.8,518.2 L745.7,518.6 L744.9,519.1 L744.3,519.5 L743.9,519.9 L743.5,520.3 L743.4,520.6 L743.4,521.0 L743.6,521.3 L743.9,521.6 L744.4,521.9 L745.2,522.2 L746.9,522.8 L747.7,523.1 L748.1,523.4 L748.4,523.8 L748.5,524.1 L748.4,524.5 L748.2,524.8 L747.9,525.2 L747.4,525.6 L746.7,526.0 L745.8,526.4 L744.6,526.8 L742.6,526.9 L741.6,527.2 L740.8,527.6 L740.2,528.0 L739.7,528.4 L739.4,528.7 L739.3,529.1 L739.3,529.4 L739.5,529.7 L739.8,530.0 L740.4,530.4 L741.4,530.8 L742.9,531.5 L743.5,531.9 L743.9,532.2 L744.1,532.6 L744.1,532.9 L744.0,533.3 L743.8,533.6 L743.3,534.0 L742.8,534.3 L742.0,534.7 L741.1,535.0 L739.4,535.1 L737.7,535.2 L736.8,535.5 L736.0,535.8 L735.4,536.1 L735.0,536.5 L734.7,536.8 L734.6,537.1 L734.6,537.5 L734.8,537.8 L735.2,538.2 L735.8,538.6 L737.3,539.3 L738.2,539.9 L738.7,540.2 L739.0,540.6 L739.2,541.0 L739.2,541.3 L739.0,541.7 L738.7,542.0 L738.2,542.3 L737.5,542.6 L736.7,542.9 L735.7,543.2 L733.6,543.0 L732.4,543.1 L731.5,543.4 L730.7,543.7 L730.2,544.0 L729.7,544.3 L729.5,544.7 L729.4,545.0 L729.5,545.3 L729.7,545.7 L730.1,546.1 L730.7,546.5 L732.3,547.4 L733.0,547.9 L733.5,548.3 L733.7,548.7 L733.8,549.0 L733.8,549.4 L733.5,549.7 L733.2,550.0 L732.6,550.3 L731.9,550.6 L731.0,550.9 L729.9,551.1 L727.8,550.8 L726.7,550.9 L725.8,551.1 L725.1,551.4 L724.6,551.7 L724.2,552.0 L723.9,552.3 L723.9,552.6 L723.9,552.9 L724.2,553.3 L724.6,553.7 L725.3,554.2 L726.8,555.2 L727.4,555.8 L727.8,556.2 L727.9,556.6 L727.9,557.0 L727.8,557.3 L727.5,557.6 L727.0,557.9 L726.4,558.1 L725.7,558.4 L724.7,558.5 L723.4,558.4 L721.5,557.9 L720.4,557.9 L719.5,558.0 L718.9,558.2 L718.3,558.4 L717.9,558.6 L717.7,558.9 L717.6,559.2 L717.7,559.5 L717.9,559.9 L718.3,560.5 L719.1,561.2 L720.3,562.4 L720.7,562.9 L720.9,563.4 L721.0,563.8 L720.9,564.1 L720.7,564.4 L720.3,564.7 L719.8,564.9 L719.1,565.0 L718.3,565.1 L717.3,565.0 L715.7,564.5 L714.1,564.0 L713.1,563.9 L712.3,563.9 L711.6,564.0 L711.1,564.2 L710.7,564.4 L710.5,564.6 L710.4,564.9 L710.5,565.3 L710.7,565.8 L711.0,566.4 L712.2,567.6 L712.8,568.5 L713.1,569.1 L713.3,569.5 L713.3,569.9 L713.1,570.2 L712.8,570.5 L712.4,570.7 L711.8,570.8 L711.1,570.8 L710.2,570.8 L709.2,570.6 L707.4,569.6 L706.2,569.2 L705.2,569.1 L704.4,569.1 L703.8,569.1 L703.3,569.2 L702.9,569.4 L702.7,569.7 L702.6,570.0 L702.7,570.4 L702.9,570.9 L703.3,571.6 L704.3,573.1 L704.8,573.8 L705.0,574.4 L705.0,574.8 L704.9,575.2 L704.7,575.5 L704.4,575.7 L703.9,575.8 L703.3,575.8 L702.5,575.8 L701.6,575.6 L700.5,575.2 L698.8,574.0 L697.7,573.7 L696.8,573.5 L696.1,573.4 L695.5,573.4 L695.0,573.5 L694.7,573.6 L694.4,573.9 L694.4,574.2 L694.4,574.7 L694.6,575.2 L695.0,576.0 L695.9,577.6 L696.2,578.3 L696.3,578.9 L696.3,579.3 L696.2,579.6 L695.9,579.8 L695.5,580.0 L695.0,580.1 L694.4,580.0 L693.6,579.9 L692.7,579.6 L691.5,579.0 L689.9,577.8 L688.9,577.4 L688.1,577.2 L687.4,577.0 L686.8,577.0 L686.4,577.1 L686.1,577.2 L685.9,577.5 L685.8,577.8 L685.8,578.2 L686.0,578.9 L686.4,579.9 L687.0,581.4 L687.2,582.1 L687.2,582.7 L687.0,583.1 L686.8,583.4 L686.4,583.5 L685.9,583.6 L685.3,583.5 L684.7,583.3 L683.9,583.0 L683.0,582.5 L681.9,581.2 L680.8,580.0 L680.0,579.4 L679.3,579.0 L678.6,578.8 L678.1,578.7 L677.6,578.7 L677.3,578.8 L677.1,579.0 L677.0,579.4 L676.9,579.9 L677.0,580.6 L677.3,582.2 L677.5,583.3 L677.4,584.0 L677.3,584.4 L677.1,584.8 L676.8,585.0 L676.4,585.0 L675.9,585.0 L675.4,584.8 L674.7,584.4 L674.0,584.0 L673.2,583.2 L672.2,581.5 L671.4,580.5 L670.6,579.9 L670.0,579.4 L669.4,579.1 L669.0,578.9 L668.6,578.9 L668.2,579.0 L668.0,579.2 L667.8,579.6 L667.7,580.1 L667.7,580.9 L667.8,582.7 L667.8,583.6 L667.7,584.2 L667.5,584.6 L667.3,584.9 L667.0,585.0 L666.6,585.0 L666.1,584.9 L665.5,584.6 L664.9,584.2 L664.2,583.6 L663.4,582.7 L662.5,580.9 L661.8,580.0 L661.1,579.4 L660.5,579.0 L659.9,578.7 L659.5,578.5 L659.1,578.5 L658.8,578.6 L658.6,578.9 L658.4,579.3 L658.3,579.8 L658.2,580.7 L658.2,582.6 L658.1,583.3 L658.0,583.9 L657.7,584.2 L657.4,584.4 L657.1,584.5 L656.6,584.4 L656.1,584.2 L655.6,583.8 L655.0,583.3 L654.3,582.6 L653.7,581.5 L653.1,579.5 L652.5,578.7 L651.9,578.0 L651.5,577.5 L651.0,577.2 L650.6,576.9 L650.3,576.9 L650.0,577.0 L649.7,577.2 L649.5,577.6 L649.3,578.2 L649.0,579.2 L648.7,580.9 L648.4,581.6 L648.1,582.0 L647.8,582.2 L647.4,582.4 L647.1,582.3 L646.7,582.1 L646.2,581.7 L645.8,581.2 L645.3,580.5 L644.8,579.6 L644.5,578.0 L644.2,576.4 L643.7,575.5 L643.3,574.8 L642.9,574.2 L642.5,573.9 L642.2,573.6 L641.8,573.6 L641.5,573.6 L641.2,573.9 L640.9,574.3 L640.6,574.9 L640.0,576.5 L639.6,577.5 L639.3,578.0 L639.0,578.4 L638.6,578.6 L638.3,578.6 L637.9,578.5 L637.5,578.2 L637.1,577.8 L636.7,577.2 L636.3,576.4 L636.0,575.4 L635.9,573.4 L635.6,572.1 L635.2,571.2 L634.8,570.6 L634.4,570.0 L634.1,569.7 L633.7,569.5 L633.4,569.4 L633.1,569.5 L632.8,569.8 L632.4,570.2 L632.0,570.9 L631.3,572.6 L630.9,573.4 L630.6,573.8 L630.2,574.1 L629.9,574.3 L629.5,574.2 L629.2,574.0 L628.8,573.7 L628.5,573.2 L628.1,572.5 L627.7,571.7 L627.5,570.6 L627.5,568.5 L627.3,567.3 L627.0,566.5 L626.6,565.8 L626.3,565.3 L625.9,565.0 L625.6,564.8 L625.3,564.7 L625.0,564.8 L624.6,565.1 L624.2,565.6 L623.8,566.3 L623.0,568.0 L622.5,568.6 L622.2,569.0 L621.8,569.3 L621.5,569.3 L621.1,569.2 L620.8,569.0 L620.4,568.6 L620.1,568.0 L619.8,567.3 L619.5,566.3 L619.4,565.1 L619.6,563.1 L619.4,562.0 L619.1,561.2 L618.8,560.5 L618.5,560.0 L618.2,559.7 L617.9,559.5 L617.6,559.5 L617.2,559.6 L616.9,559.9 L616.5,560.4 L615.9,561.3 L615.0,562.7 L614.5,563.2 L614.1,563.6 L613.7,563.7 L613.4,563.7 L613.0,563.5 L612.7,563.2 L612.4,562.8 L612.2,562.1 L611.9,561.3 L611.8,560.3 L611.9,558.7 L612.1,557.0 L611.9,556.0 L611.7,555.2 L611.4,554.6 L611.2,554.1 L610.9,553.8 L610.5,553.7 L610.2,553.6 L609.8,553.8 L609.4,554.1 L609.0,554.6 L608.0,556.0 L607.4,556.9 L606.9,557.3 L606.5,557.6 L606.2,557.7 L605.8,557.6 L605.5,557.4 L605.2,557.1 L605.0,556.6 L604.7,555.9 L604.5,555.0 L604.4,554.0 L604.8,552.0 L604.8,550.7 L604.6,549.8 L604.4,549.0 L604.1,548.4 L603.8,548.0 L603.5,547.7 L603.2,547.6 L602.8,547.6" stroke-width="1.55" stroke="#2a2a2a"/>
<path class="wk" stroke-width="1.56" d="M269,673 L457,673 L488,692 L510,692 L538,708 L542,712 L542,722 L269,722 Z"/>
<path class="wk" stroke-width="1.56" d="M552,722 L552,712 L554,709 L579,690 L616,689 L642,673 L831,673 Q837,673.5 837,680 L837,722 Z"/>
<path stroke-width="1.6" stroke="#1a1a1a" d="M269,722 L542,722 M552,722 L837,722"/>
<path d="M275.5,699.5 L275.5,718.5 M280.3,705 L280.3,718.5 M285.2,699.5 L285.2,718.5 M290.0,705 L290.0,718.5 M294.9,699.5 L294.9,718.5 M299.7,705 L299.7,718.5 M304.5,699.5 L304.5,718.5 M309.4,705 L309.4,718.5 M314.2,699.5 L314.2,718.5 M319.1,705 L319.1,718.5 M323.9,699.5 L323.9,718.5 M328.7,705 L328.7,718.5 M333.6,699.5 L333.6,718.5 M338.4,705 L338.4,718.5 M343.3,699.5 L343.3,718.5 M348.1,705 L348.1,718.5 M352.9,699.5 L352.9,718.5 M357.8,705 L357.8,718.5 M362.6,699.5 L362.6,718.5 M367.5,705 L367.5,718.5 M372.3,699.5 L372.3,718.5 M377.1,705 L377.1,718.5 M382.0,699.5 L382.0,718.5 M386.8,705 L386.8,718.5 M391.7,699.5 L391.7,718.5 M396.5,705 L396.5,718.5 M401.3,699.5 L401.3,718.5 M406.2,705 L406.2,718.5 M411.0,699.5 L411.0,718.5 M415.9,705 L415.9,718.5 M420.7,699.5 L420.7,718.5 M425.5,705 L425.5,718.5 M430.4,699.5 L430.4,718.5 M435.2,705 L435.2,718.5 M440.1,699.5 L440.1,718.5 M444.9,705 L444.9,718.5 M449.7,699.5 L449.7,718.5 M454.6,705 L454.6,718.5 M459.4,699.5 L459.4,718.5 M464.3,705 L464.3,718.5 M469.1,699.5 L469.1,718.5 M473.9,705 L473.9,718.5 M478.8,699.5 L478.8,718.5 M483.6,705 L483.6,718.5 M488.5,699.5 L488.5,718.5 M493.3,705 L493.3,718.5 M498.1,699.5 L498.1,718.5 M503.0,705 L503.0,718.5 M507.8,699.5 L507.8,718.5 M512.7,705 L512.7,718.5 M517.5,699.5 L517.5,718.5 M522.3,705 L522.3,718.5 M572.5,699.5 L572.5,718.5 M577.3,705 L577.3,718.5 M582.2,699.5 L582.2,718.5 M587.0,705 L587.0,718.5 M591.9,699.5 L591.9,718.5 M596.7,705 L596.7,718.5 M601.5,699.5 L601.5,718.5 M606.4,705 L606.4,718.5 M611.2,699.5 L611.2,718.5 M616.1,705 L616.1,718.5 M620.9,699.5 L620.9,718.5 M625.7,705 L625.7,718.5 M630.6,699.5 L630.6,718.5 M635.4,705 L635.4,718.5 M640.3,699.5 L640.3,718.5 M645.1,705 L645.1,718.5 M649.9,699.5 L649.9,718.5 M654.8,705 L654.8,718.5 M659.6,699.5 L659.6,718.5 M664.5,705 L664.5,718.5 M669.3,699.5 L669.3,718.5 M674.1,705 L674.1,718.5 M679.0,699.5 L679.0,718.5 M683.8,705 L683.8,718.5 M688.7,699.5 L688.7,718.5 M693.5,705 L693.5,718.5 M698.3,699.5 L698.3,718.5 M703.2,705 L703.2,718.5 M708.0,699.5 L708.0,718.5 M712.9,705 L712.9,718.5 M717.7,699.5 L717.7,718.5 M722.5,705 L722.5,718.5 M727.4,699.5 L727.4,718.5 M732.2,705 L732.2,718.5 M737.1,699.5 L737.1,718.5 M741.9,705 L741.9,718.5 M746.7,699.5 L746.7,718.5 M751.6,705 L751.6,718.5 M756.4,699.5 L756.4,718.5 M761.3,705 L761.3,718.5 M766.1,699.5 L766.1,718.5 M770.9,705 L770.9,718.5 M775.8,699.5 L775.8,718.5 M780.6,705 L780.6,718.5 M785.5,699.5 L785.5,718.5 M790.3,705 L790.3,718.5 M795.1,699.5 L795.1,718.5 M800.0,705 L800.0,718.5 M804.8,699.5 L804.8,718.5 M809.7,705 L809.7,718.5 M814.5,699.5 L814.5,718.5 M819.3,705 L819.3,718.5 M824.2,699.5 L824.2,718.5 M829.0,705 L829.0,718.5 " stroke-width="1.7" stroke="#484848" stroke-linecap="butt"/>
<rect class="k" x="338" y="678.5" width="47" height="15"/>
<rect class="k" x="716" y="679" width="48" height="15"/>
<ellipse cx="304" cy="685" rx="6.5" ry="3.6" stroke-width="1.43"/>
<ellipse cx="420" cy="687" rx="6.5" ry="3.6" stroke-width="1.43"/>
<ellipse cx="683.6" cy="686" rx="6.5" ry="3.6" stroke-width="1.43"/>
<ellipse cx="798.4" cy="686" rx="6.5" ry="3.6" stroke-width="1.43"/></g>
<g fill="none" stroke="#454545" stroke-width="1.5" stroke-linejoin="round" stroke-linecap="round"><path class="k" d="M552,280.5 L538,275.7 L528.7,273.4 Q522,272.6 516,273.4 Q509,274.5 505,277.3 Q500,281 497.2,288.3 L489.4,307.2 L481.5,326 L473.6,345 Q469.5,355 468,362.4 Q466.5,371 467.3,378 Q468,385 469.7,390.7 L473.6,398.6 L487.8,382.8 L491.7,376.5 Q490.5,373 491.7,368.7 L497.2,353 L505,334 L513,313.5 L519.3,296 Q522,291.5 525.6,290.7 Q531,290.5 538,293 L546,296.5 Z"/>
<path class="wl" stroke-width="1.95" d="M521,272.4 L535,277.6 L538,281.2 L551.6,286"/>
</g>
<g fill="none" stroke="#454545" stroke-width="1.5" stroke-linejoin="round" stroke-linecap="round"><g transform="translate(560.6,371.8) rotate(-60.6) skewX(-10)" stroke="#1a1a1a" stroke-width="2.7" stroke-linecap="butt" stroke-linejoin="miter">
<path d="M1.2,0 L1.2,-11 L4.5,-11 Q7.3,-11 7.3,-8.3 Q7.3,-5.7 4.5,-5.7 L1.2,-5.7 M4.5,-5.7 Q7.9,-5.7 7.9,-2.8 Q7.9,0 4.5,0 L1.2,0"/>
<ellipse cx="17" cy="-5.5" rx="3.9" ry="5.6"/>
<path d="M32.6,-8 Q32,-11.1 28.9,-11.1 Q25.6,-11.1 25.6,-8.2 Q25.6,-6.3 29,-5.6 Q32.8,-5 32.8,-2.8 Q32.8,0.1 29,0.1 Q25.4,0.1 25,-3.2"/>
<path d="M45.4,-7.6 Q44.6,-11.1 41.6,-11.1 Q37.8,-11.1 37.8,-5.5 Q37.8,0.1 41.6,0.1 Q44.6,0.1 45.4,-3.4"/>
<path d="M50.8,0 L50.8,-11 M58,0 L58,-11 M50.8,-5.7 L58,-5.7"/>
</g>
</g>
<g fill="none" stroke="#454545" stroke-width="1.5" stroke-linejoin="round" stroke-linecap="round"><g transform="translate(380,740) scale(0.2)" stroke-width="6.50">
<path d="M85,92 L80,440"/>
<path d="M85,95 C100,160 200,225 350,275 C480,305 640,314 750,312 C850,310 920,303 945,298 L965,285 L1032,276 L1090,282"/>
<path d="M85,132 C120,195 230,252 380,300 C500,328 650,337 760,335 C860,332 930,325 972,316"/>
<path class="k" d="M165,112 C200,200 330,262 560,278 C700,285 850,278 935,268 L935,260 C850,266 700,268 560,256 C380,240 260,190 208,108 Z"/>
<path class="k" d="M287,110 C320,170 430,215 600,232 C720,240 820,240 892,238 L892,231 C820,232 720,228 610,216 C470,200 380,165 330,108 Z"/>
<path class="k" d="M412,110 C440,150 520,180 640,195 C700,200 750,200 782,198 L782,191 C750,192 700,190 650,182 C550,168 490,145 452,108 Z"/>
<path d="M80,440 C150,492 300,552 500,585 C620,596 850,596 1062,580"/>
<path d="M-60,520 C40,580 200,632 350,650 C520,670 750,672 850,665 C1000,655 1150,635 1290,605"/>
<path d="M-100,540 C0,610 200,680 400,705 C550,722 800,722 1000,705 C1120,695 1220,688 1290,680"/>
<path stroke-width="56" stroke="#1a1a1a" stroke-linecap="butt" d="M-30,680 C60,740 250,795 400,812 C550,832 800,832 1000,808 C1120,795 1220,778 1300,762"/>
<path class="k" d="M1285,737 L1440,712 L1446,734 L1285,793 Z"/>
<path d="M1290,680 L1400,660 M1290,605 L1330,596"/>
<path d="M965,285 L975,300 L975,430 L1012,446"/>
<path stroke-width="5.20" d="M1030,280 L1030,392"/>
<circle class="wk" cx="1035" cy="408" r="17"/>
<path class="k" d="M1003,420 L1020,433 L1075,418 L1115,446 L1120,640 L1142,662 L1100,656 L1065,590 L1060,452 L1015,442 Z"/>
<path d="M1120,572 L1290,626 M1142,658 L1290,628"/>
</g>
</g>
</svg>
</body></html>
